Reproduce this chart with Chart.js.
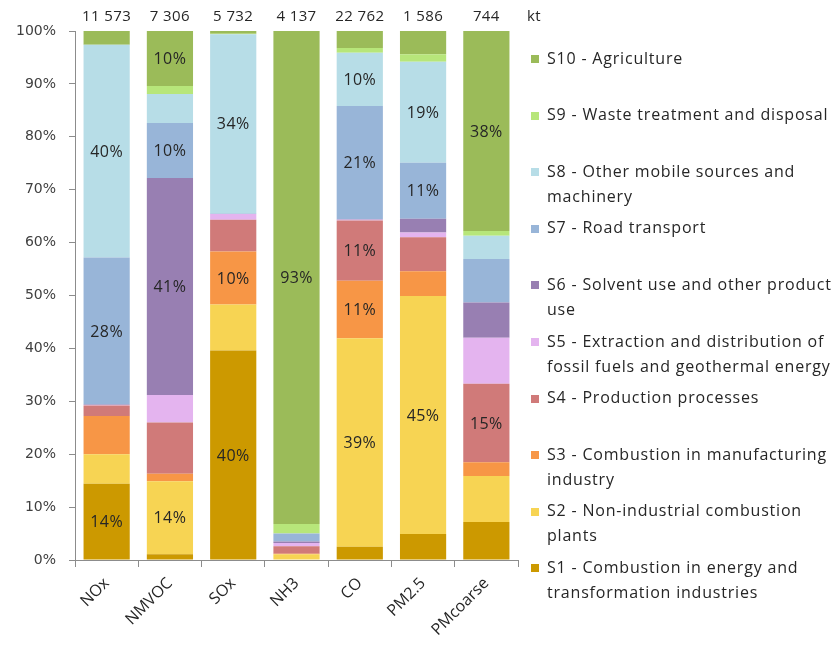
<!DOCTYPE html>
<html>
<head>
<meta charset="utf-8">
<title>Emissions by sector</title>
<script src="https://cdn.jsdelivr.net/npm/chart.js@4.4.0/dist/chart.umd.min.js"></script>
<style>
  body { margin: 0; background: #fff; }
  #wrap { width: 837px; height: 646px; }
</style>
</head>
<body>
<div id="wrap"><canvas id="sectorChart" width="837" height="646"></canvas></div>
<script>
// Pollutants and their national totals (kt)
const pollutants = ['NOx', 'NMVOC', 'SOx', 'NH3', 'CO', 'PM2.5', 'PMcoarse'];
const totals = [11573, 7306, 5732, 4137, 22762, 1586, 744];

// Share of each sector in the total, %
const s1 = [14.4, 1.1, 39.6, 0, 2.5, 4.9, 7.2];
const s2 = [5.6, 13.8, 8.7, 1.1, 39.4, 45.0, 8.7];
const s3 = [7.2, 1.4, 10.0, 0.1, 10.9, 4.7, 2.6];
const s4 = [2.0, 9.7, 6.0, 1.4, 11.4, 6.4, 14.8];
const s5 = [0.1, 5.2, 1.1, 0.6, 0.1, 0.9, 8.7];
const s6 = [0.1, 41.0, 0, 0.3, 0.1, 2.6, 6.7];
const s7 = [27.8, 10.4, 0.1, 1.5, 21.4, 10.6, 8.2];
const s8 = [40.2, 5.5, 33.9, 0, 10.1, 19.1, 4.4];
const s9 = [0, 1.5, 0.1, 1.8, 0.9, 1.4, 0.9];
const s10 = [2.6, 10.4, 0.5, 93.2, 3.2, 4.4, 37.8];

const yTicks = [0, 10, 20, 30, 40, 50, 60, 70, 80, 90, 100];

const sectorNames = [
    ['S1 - Combustion in energy and', 'transformation industries'],
    ['S2 - Non-industrial combustion', 'plants'],
    ['S3 - Combustion in manufacturing', 'industry'],
    ['S4 - Production processes'],
    ['S5 - Extraction and distribution of', 'fossil fuels and geothermal energy'],
    ['S6 - Solvent use and other product', 'use'],
    ['S7 - Road transport'],
    ['S8 - Other mobile sources and', 'machinery'],
    ['S9 - Waste treatment and disposal'],
    ['S10 - Agriculture']
];
const sectorColors = ['#CC9900', '#F7D453', '#F79646', '#D07A79', '#E4B4EF',
                      '#987FB2', '#98B5D8', '#B7DDE7', '#B7E67A', '#9BBB59'];
const sectorValues = [s1, s2, s3, s4, s5, s6, s7, s8, s9, s10];

const textFont = '"Open Sans", sans-serif';

function fmtThousands(n) {
    return n.toString().replace(/\B(?=(\d{3})+(?!\d))/g, ' ');
}

// percentage labels inside the larger segments
const segmentLabels = {
    id: 'segmentLabels',
    afterDatasetsDraw(chart) {
        const ctx = chart.ctx;
        ctx.save();
        ctx.font = '16px ' + textFont;
        ctx.letterSpacing = '0.4px';
        ctx.fillStyle = '#262626';
        ctx.textAlign = 'center';
        ctx.textBaseline = 'middle';
        chart.data.datasets.forEach((ds, i) => {
            const meta = chart.getDatasetMeta(i);
            meta.data.forEach((bar, j) => {
                const v = ds.data[j];
                if (v < 10) return;
                ctx.fillText(Math.round(v) + '%', bar.x, (bar.y + bar.base) / 2 + 1);
            });
        });
        ctx.restore();
    }
};

// totals row above the bars
const totalsRow = {
    id: 'totalsRow',
    afterDraw(chart) {
        const ctx = chart.ctx;
        const x = chart.scales.x;
        ctx.save();
        ctx.font = '15px ' + textFont;
        ctx.letterSpacing = '0.4px';
        ctx.fillStyle = '#262626';
        ctx.textAlign = 'center';
        ctx.textBaseline = 'middle';
        totals.forEach((t, i) => {
            ctx.fillText(fmtThousands(t), x.getPixelForValue(i), 17);
        });
        ctx.fillText('kt', 534, 17);
        ctx.restore();
    }
};

// legend on the right, top item = last sector
const sideLegend = {
    id: 'sideLegend',
    afterDraw(chart) {
        const ctx = chart.ctx;
        ctx.save();
        ctx.font = '16px ' + textFont;
        ctx.letterSpacing = '0.8px';
        ctx.textBaseline = 'middle';
        ctx.textAlign = 'left';
        const n = sectorNames.length;
        for (let k = 0; k < n; k++) {
            const idx = n - 1 - k;
            const y = 59 + k * 56.6;
            ctx.fillStyle = sectorColors[idx];
            ctx.fillRect(531, Math.round(y) - 4, 8, 8);
            ctx.fillStyle = '#262626';
            sectorNames[idx].forEach((line, l) => {
                ctx.fillText(line, 547, y + l * 25);
            });
        }
        ctx.restore();
    }
};

const ctx = document.getElementById('sectorChart').getContext('2d');
const sectorChart = new Chart(ctx, {
    type: 'bar',
    data: {
        labels: pollutants,
        datasets: sectorValues.map((vals, i) => ({
            label: sectorNames[i].join(' '),
            data: vals,
            backgroundColor: sectorColors[i],
            borderWidth: 0,
            barPercentage: 0.73,
            categoryPercentage: 1
        }))
    },
    options: {
        responsive: false,
        animation: false,
        devicePixelRatio: 1,
        layout: {
            padding: { left: 0, top: 31, right: 319, bottom: 0 }
        },
        plugins: {
            legend: { display: false },
            tooltip: { enabled: false }
        },
        scales: {
            x: {
                stacked: true,
                grid: {
                    display: true,
                    drawOnChartArea: false,
                    drawTicks: true,
                    tickLength: 7,
                    color: '#8C8C8C',
                    offset: true
                },
                border: { color: '#8C8C8C', width: 1 },
                ticks: {
                    maxRotation: 45,
                    minRotation: 45,
                    color: '#262626',
                    font: { family: textFont, size: 16 },
                    padding: 7
                },
                afterFit(scale) { scale.height = 86; }
            },
            y: {
                stacked: true,
                min: 0,
                max: 100,
                afterBuildTicks(scale) {
                    scale.ticks = yTicks.map(v => ({ value: v }));
                },
                grid: {
                    display: true,
                    drawOnChartArea: false,
                    drawTicks: true,
                    tickLength: 6,
                    color: '#8C8C8C'
                },
                border: { color: '#8C8C8C', width: 1 },
                ticks: {
                    color: '#404040',
                    font: { family: '"DejaVu Sans", sans-serif', size: 14 },
                    padding: 13,
                    callback: v => v + '%'
                },
                afterFit(scale) { scale.width = 75; }
            }
        }
    },
    plugins: [segmentLabels, totalsRow, sideLegend]
});
</script>
</body>
</html>
